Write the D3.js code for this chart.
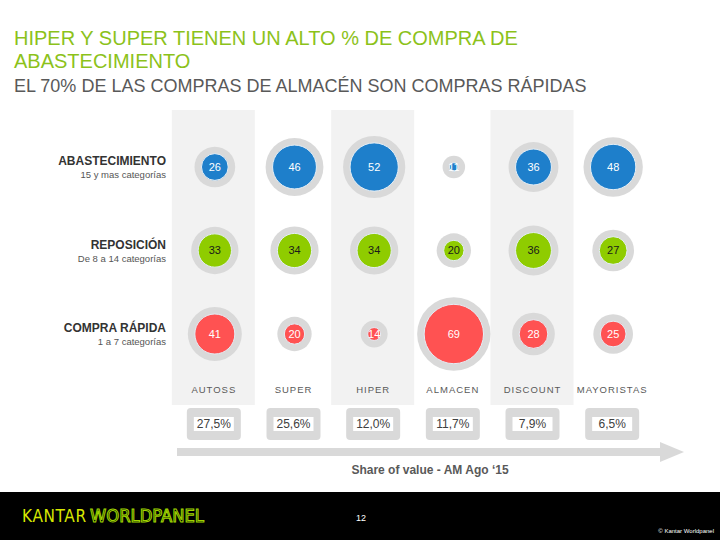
<!DOCTYPE html>
<html>
<head>
<meta charset="utf-8">
<script src="https://cdn.jsdelivr.net/npm/d3@7"></script>
<style>
  body { margin: 0; background: #fff; }
  svg { display: block; font-family: "Liberation Sans", Arial, sans-serif; }
</style>
</head>
<body>
<svg id="chart" width="720" height="540"></svg>
<script>
const canales = ["AUTOSS", "SUPER", "HIPER", "ALMACEN", "DISCOUNT", "MAYORISTAS"]
const segmentos = ["ABASTECIMIENTO", "REPOSICIÓN", "COMPRA RÁPIDA"]
const subtitulos = ["15 y mas categorías", "De 8 a 14 categorías", "1 a 7 categorías"]
const abastecimiento = [26, 46, 52, 11, 36, 48]
const reposicion = [33, 34, 34, 20, 36, 27]
const compraRapida = [41, 20, 14, 69, 28, 25]
const shareValor = ["27,5%", "25,6%", "12,0%", "11,7%", "7,9%", "6,5%"]
const sombreados = ["AUTOSS", "HIPER", "DISCOUNT"]

const series = [abastecimiento, reposicion, compraRapida]
const colores = ["#1e7fcb", "#8fcc00", "#ff5252"]
const colorTexto = ["#ffffff", "#1a1a1a", "#ffffff"]

const svg = d3.select('#chart')

const x = d3.scaleBand()
    .domain(canales)
    .range([172, 650])

const y = d3.scalePoint()
    .domain(segmentos)
    .range([167, 334])

const r = d3.scaleSqrt()
    .domain([10, 70])
    .range([3.5, 30])

const cx = d => x(d) + x.bandwidth() / 2

// columnas sombreadas
svg.append('g')
    .selectAll('rect')
    .data(sombreados)
    .join('rect')
    .attr('x', d => cx(d) - 40)
    .attr('y', 110)
    .attr('width', 83)
    .attr('height', 295)
    .attr('fill', '#f2f2f2')

// titulos
svg.append('text')
    .attr('x', 14).attr('y', 45)
    .attr('font-size', 20).attr('fill', '#8cc21a')
    .text('HIPER Y SUPER TIENEN UN ALTO % DE COMPRA DE')
svg.append('text')
    .attr('x', 14).attr('y', 68)
    .attr('font-size', 20).attr('fill', '#8cc21a')
    .text('ABASTECIMIENTO')
svg.append('text')
    .attr('x', 14).attr('y', 92)
    .attr('font-size', 18).attr('fill', '#595959')
    .text('EL 70% DE LAS COMPRAS DE ALMACÉN SON COMPRAS RÁPIDAS')

// etiquetas de filas
const filas = svg.append('g')
    .selectAll('g')
    .data(segmentos)
    .join('g')
    .attr('transform', d => `translate(166, ${y(d)})`)

filas.append('text')
    .attr('y', -2)
    .attr('text-anchor', 'end')
    .attr('font-size', 12)
    .attr('font-weight', 'bold')
    .attr('fill', '#333')
    .text(d => d)

filas.append('text')
    .attr('y', 11)
    .attr('text-anchor', 'end')
    .attr('font-size', 9.5)
    .attr('fill', '#555')
    .text((d, i) => subtitulos[i])

// burbujas
const celdas = []
series.forEach((s, i) => {
    s.forEach((v, j) => {
        celdas.push({fila: segmentos[i], canal: canales[j], valor: v, i: i})
    })
})

const burbujas = svg.append('g')
    .selectAll('g')
    .data(celdas)
    .join('g')
    .attr('transform', d => `translate(${cx(d.canal) + 3}, ${y(d.fila)})`)

burbujas.append('circle')
    .attr('r', d => r(d.valor) + 7)
    .attr('fill', '#d9d9d9')

burbujas.append('circle')
    .attr('r', d => r(d.valor))
    .attr('fill', d => colores[d.i])
    .attr('stroke', '#e4eef6')
    .attr('stroke-width', 1)

burbujas.append('text')
    .attr('text-anchor', 'middle')
    .attr('dy', '0.35em')
    .attr('font-size', 11)
    .attr('fill', d => colorTexto[d.i])
    .text(d => d.valor)

// nombres de canales
svg.append('g')
    .selectAll('text')
    .data(canales)
    .join('text')
    .attr('x', d => cx(d) + 2)
    .attr('y', 393)
    .attr('text-anchor', 'middle')
    .attr('font-size', 9.5)
    .attr('letter-spacing', 1)
    .attr('fill', '#595959')
    .text(d => d)

// cajas de share
const cajas = svg.append('g')
    .selectAll('g')
    .data(canales)
    .join('g')
    .attr('transform', d => `translate(${cx(d) + 2}, 424)`)

cajas.append('rect')
    .attr('x', -27).attr('y', -16)
    .attr('width', 54).attr('height', 32)
    .attr('rx', 4)
    .attr('fill', '#d9d9d9')

cajas.append('rect')
    .attr('x', -20).attr('y', -7)
    .attr('width', 40).attr('height', 14)
    .attr('fill', '#fff')

cajas.append('text')
    .attr('text-anchor', 'middle')
    .attr('dy', '0.36em')
    .attr('font-size', 12)
    .attr('fill', '#404040')
    .text((d, i) => shareValor[i])

// flecha
svg.append('rect')
    .attr('x', 177).attr('y', 448)
    .attr('width', 486).attr('height', 8)
    .attr('fill', '#d9d9d9')
svg.append('path')
    .attr('d', 'M660,442 L684,452 L660,462 Z')
    .attr('fill', '#d9d9d9')

svg.append('text')
    .attr('x', 430).attr('y', 474)
    .attr('text-anchor', 'middle')
    .attr('font-size', 12)
    .attr('font-weight', 'bold')
    .attr('fill', '#595959')
    .text('Share of value - AM Ago ‘15')

// pie
svg.append('rect')
    .attr('x', 0).attr('y', 492)
    .attr('width', 720).attr('height', 48)
    .attr('fill', '#000')

svg.append('text')
    .attr('x', 22).attr('y', 522)
    .attr('font-size', 17)
    .attr('font-family', '"DejaVu Sans Condensed", sans-serif')
    .attr('textLength', 64)
    .attr('fill', '#d7e800')
    .text('KANTAR')
svg.append('text')
    .attr('x', 90).attr('y', 522)
    .attr('font-size', 17)
    .attr('font-family', '"DejaVu Sans Condensed", sans-serif')
    .attr('textLength', 114)
    .attr('lengthAdjust', 'spacingAndGlyphs')
    .attr('fill', 'none')
    .attr('stroke', '#9fd400')
    .attr('stroke-width', 1)
    .text('WORLDPANEL')

svg.append('text')
    .attr('x', 361).attr('y', 521)
    .attr('text-anchor', 'middle')
    .attr('font-size', 9)
    .attr('fill', '#fff')
    .text('12')

svg.append('text')
    .attr('x', 714).attr('y', 533)
    .attr('text-anchor', 'end')
    .attr('font-size', 6)
    .attr('fill', '#fff')
    .text('© Kantar Worldpanel')
</script>
</body>
</html>
